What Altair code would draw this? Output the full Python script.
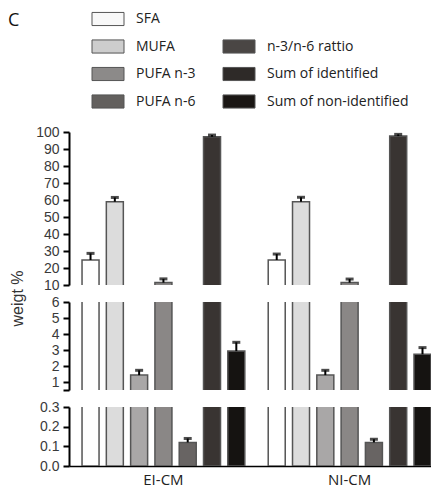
import altair as alt
import pandas as pd

# ---- data ----
categories = ["SFA", "MUFA", "PUFA n-3", "PUFA n-6", "n-3/n-6 rattio",
              "Sum of identified", "Sum of non-identified"]
groups = ["EI-CM", "NI-CM"]
ei_mean = [24.7, 59.0, 1.43, 11.4, 0.12, 97.2, 2.93]
ei_err = [3.9, 2.5, 0.30, 2.2, 0.020, 1.0, 0.55]
ni_mean = [24.7, 59.0, 1.43, 11.4, 0.12, 97.6, 2.73]
ni_err = [3.5, 2.6, 0.30, 2.1, 0.016, 1.0, 0.42]

bar_colors = ["#ffffff", "#dcdcdc", "#a9a7a7", "#8a8786", "#686463", "#393432", "#151311"]
legend_colors = ["#f8f8f8", "#cdcdcd", "#8c8a89", "#63605e", "#4a4644", "#2e2a28", "#1a1614"]
legend_col = [0, 0, 0, 0, 1, 1, 1]
legend_row = [0, 1, 2, 3, 1, 2, 3]

top_ticks = [10, 20, 30, 40, 50, 60, 70, 80, 90, 100]
mid_ticks = [0.5, 1, 2, 3, 4, 5, 6]
bot_ticks = [0.0, 0.1, 0.2, 0.3]

rows = []
for g, means, errs in [("EI-CM", ei_mean, ei_err), ("NI-CM", ni_mean, ni_err)]:
    for c, m, e in zip(categories, means, errs):
        rows.append({"group": g, "category": c, "mean": m, "top": m + e})
df = pd.DataFrame(rows)

leg = pd.DataFrame({"item": categories, "col": legend_col, "row": legend_row})

W = 362
xscale = alt.Scale(domain=groups, paddingInner=0.1257, paddingOuter=0.035, align=1)
offscale = alt.Scale(domain=categories, paddingInner=0.3, paddingOuter=0)


def yaxis(values, fmt=None, expr=None, title=None):
    kw = dict(values=values, grid=False, domainColor="black", domainWidth=2,
              labelOverlap=False, tickColor="black", tickWidth=2, tickSize=6,
              labelPadding=4, labelFont="Liberation Sans", labelFontSize=14,
              labelColor="#3a3a3a", title=title)
    if fmt:
        kw["format"] = fmt
    if expr:
        kw["labelExpr"] = expr
    if title:
        kw.update(titleAngle=270, titleX=-52, titleY=-4, titleAlign="center",
                  titleBaseline="middle", titleFont="Liberation Sans",
                  titleFontSize=16, titleFontWeight="normal", titleColor="#333")
    return alt.Axis(**kw)


def panel(dom, height, axis, show_x):
    if show_x:
        xaxis = alt.Axis(title=None, labelAngle=0, ticks=False, domainColor="black",
                         domainWidth=1.5, labelFont="Open Sans", labelFontSize=15,
                         labelColor="#222", labelPadding=6)
    else:
        xaxis = None
    ysc = alt.Scale(domain=dom, nice=False, zero=False)
    base = alt.Chart(df).encode(
        x=alt.X("group:N", scale=xscale, axis=xaxis),
        xOffset=alt.XOffset("category:N", scale=offscale, sort=categories),
    )
    bars = base.mark_bar(clip=True, stroke="#555", strokeWidth=1.5).encode(
        y=alt.Y("mean:Q", scale=ysc, axis=axis),
        y2=alt.datum(0),
        fill=alt.Fill("category:N", scale=alt.Scale(domain=categories, range=bar_colors),
                      legend=None),
    )
    rule = base.mark_rule(clip=True, color="black", strokeWidth=2).encode(
        y=alt.Y("mean:Q", scale=ysc, axis=axis), y2="top:Q")
    cap = base.mark_tick(clip=True, color="black", thickness=3, size=8).encode(
        y=alt.Y("top:Q", scale=ysc, axis=axis))
    return alt.layer(bars, rule, cap).properties(width=W, height=height)


top = panel([10, 100], 153, yaxis(top_ticks), False)
mid = panel([0.5, 6], 88, yaxis(mid_ticks, expr="datum.value < 0.9 ? '' : datum.label",
                                title="weigt %"), False)
bot = panel([0, 0.3], 59, yaxis(bot_ticks, fmt=".1f"), True)

lbase = alt.Chart(leg).encode(
    x=alt.X("col:Q", scale=alt.Scale(domain=[0, 1], range=[39, 170]), axis=None),
    y=alt.Y("row:Q", scale=alt.Scale(domain=[0, 3], range=[11, 93.5]), axis=None),
)
swatch = lbase.mark_point(
    shape="M-1,-0.41L1,-0.41L1,0.41L-1,0.41Z", size=1024, filled=True,
    stroke="#555", strokeWidth=1, opacity=1).encode(
    fill=alt.Fill("item:N", scale=alt.Scale(domain=categories, range=legend_colors),
                  legend=None))
ltext = lbase.mark_text(align="left", baseline="middle", dx=28, font="Open Sans",
                        fontSize=14, color="#222").encode(text="item:N")
clabel = alt.Chart(pd.DataFrame({"t": ["C"]})).mark_text(
    align="left", baseline="middle", font="Open Sans", fontSize=18, color="#111").encode(
    x=alt.value(-61), y=alt.value(13), text="t:N")
legend_chart = alt.layer(swatch, ltext, clabel).properties(width=W, height=107)

chart = alt.vconcat(legend_chart, top, mid, bot, spacing=17, bounds="flush").resolve_scale(
    fill="independent").configure_view(stroke=None).properties(padding=0)

chart.save("out.html", embed_options={"renderer": "svg", "actions": False})
